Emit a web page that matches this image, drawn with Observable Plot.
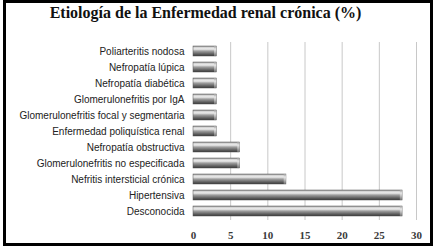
<!DOCTYPE html>
<html>
<head>
<meta charset="utf-8">
<script src="https://cdn.jsdelivr.net/npm/d3@7"></script>
<script src="https://cdn.jsdelivr.net/npm/@observablehq/plot@0.6"></script>
<style>
  body { margin: 0; background: #fff; }
  #wrap { position: relative; width: 439px; height: 252px; overflow: hidden; }
  #frame { position: absolute; left: 3px; top: 0px; width: 430px; height: 246px; border: 3px solid #000; box-sizing: border-box; pointer-events: none; }
  #title { position: absolute; left: 0; top: 4px; width: 411px; text-align: center; font: bold 16px "Liberation Serif", serif; color: #111; margin: 0; }
  #chart { position: absolute; left: 0; top: 0; }
</style>
</head>
<body>
<div id="wrap">
  <div id="chart"></div>
  <h2 id="title">Etiología de la Enfermedad renal crónica (%)</h2>
  <div id="frame"></div>
</div>
<script>
const categories = [
  "Poliarteritis nodosa",
  "Nefropatía lúpica",
  "Nefropatía diabética",
  "Glomerulonefritis por IgA",
  "Glomerulonefritis focal y segmentaria",
  "Enfermedad poliquística renal",
  "Nefropatía obstructiva",
  "Glomerulonefritis no especificada",
  "Nefritis intersticial crónica",
  "Hipertensiva",
  "Desconocida"
];
const values = [3.125, 3.125, 3.125, 3.125, 3.125, 3.125, 6.25, 6.25, 12.5, 28.125, 28.125];
const xTicks = [0, 5, 10, 15, 20, 25, 30];

const data = categories.map((c, i) => ({category: c, value: values[i]}));

const chart = Plot.plot({
  width: 439,
  height: 252,
  marginLeft: 193,
  marginRight: 23,
  marginTop: 38,
  marginBottom: 29,
  style: {background: "transparent", overflow: "visible"},
  x: {domain: [0, 30], ticks: xTicks, label: null},
  y: {domain: categories, padding: 0.38, label: null},
  marks: [
    Plot.ruleX(xTicks.slice(1), {stroke: "#c8c8c8", strokeWidth: 1, insetTop: 4, insetBottom: 3}),
    Plot.barX(data, {y: "category", x: "value", fill: "url(#barGrad)", stroke: "#555", strokeWidth: 0.5}),
    Plot.barX(data, {y: "category", x1: d => d.value - 0.3, x2: "value", fill: "url(#capGrad)"}),
    Plot.axisX({ticks: xTicks, tickSize: 0, tickPadding: 8, fontSize: 11, fontFamily: "Liberation Serif", fontWeight: "bold", fill: "#3a3a3a"}),
    Plot.axisY({tickSize: 0, tickPadding: 9, fontSize: 10, fontFamily: "Liberation Sans", fill: "#222"})
  ]
});

const svg = d3.select(chart);
const defs = svg.insert("defs", ":first-child");
const g1 = defs.append("linearGradient").attr("id", "barGrad").attr("x1", 0).attr("y1", 0).attr("x2", 0).attr("y2", 1);
[[0, "#858585"], [0.12, "#d0d0d0"], [0.3, "#eeeeee"], [0.5, "#a0a0a0"], [0.78, "#646464"], [1, "#383838"]]
  .forEach(([o, c]) => g1.append("stop").attr("offset", o).attr("stop-color", c));
const g2 = defs.append("linearGradient").attr("id", "capGrad").attr("x1", 0).attr("y1", 0).attr("x2", 0).attr("y2", 1);
[[0, "#9a9a9a"], [0.3, "#e8e8e8"], [0.6, "#bcbcbc"], [1, "#707070"]]
  .forEach(([o, c]) => g2.append("stop").attr("offset", o).attr("stop-color", c));

document.getElementById("chart").appendChild(chart);
</script>
</body>
</html>
